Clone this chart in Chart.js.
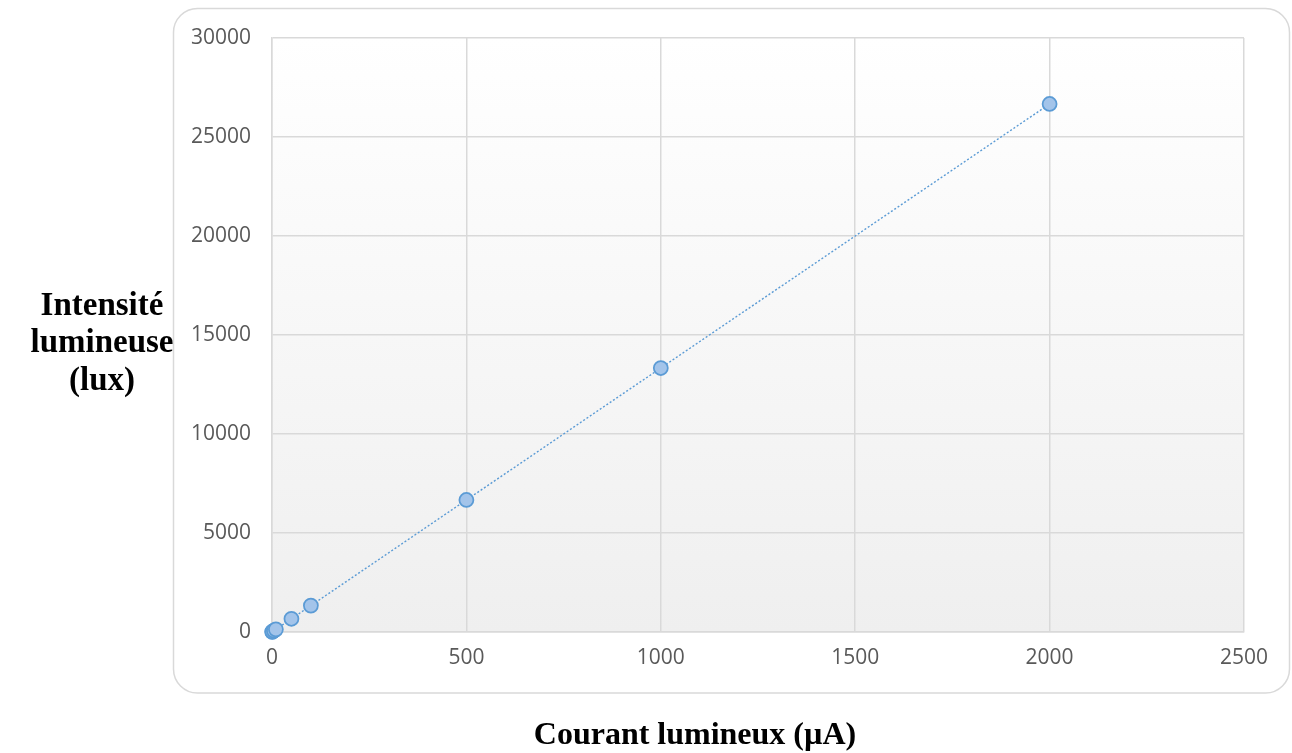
<!DOCTYPE html>
<html><head><meta charset="utf-8">
<script src="https://cdn.jsdelivr.net/npm/chart.js@4/dist/chart.umd.min.js"></script>
<style>html,body{margin:0;padding:0;background:#fff;}#wrap{width:1292px;height:753px;position:relative;}</style>
</head><body><div id="wrap"><canvas id="c" width="1292" height="753"></canvas></div>
<script>
const currentUA = [0.5, 1, 5, 10, 50, 100, 500, 1000, 2000];
const intensityLux = [7, 13, 67, 133, 667, 1333, 6667, 13333, 26667];
const xTitle = "Courant lumineux (µA)";
const yTitleLines = ["Intensité", "lumineuse", "(lux)"];

const points = currentUA.map((x, i) => ({x: x, y: intensityLux[i]}));

const decor = {
  id: 'decor',
  beforeDraw(chart) {
    const ctx = chart.ctx, a = chart.chartArea;
    ctx.save();
    const g = ctx.createLinearGradient(0, a.top, 0, a.bottom);
    g.addColorStop(0, '#ffffff');
    g.addColorStop(1, '#efefef');
    ctx.fillStyle = g;
    ctx.fillRect(a.left, a.top, a.right - a.left, a.bottom - a.top);
    ctx.strokeStyle = '#d9d9d9';
    ctx.lineWidth = 1.5;
    ctx.beginPath();
    ctx.roundRect(173.5, 8.5, 1116, 684.5, 24);
    ctx.stroke();
    ctx.restore();
  },
  afterDraw(chart) {
    const ctx = chart.ctx;
    ctx.save();
    ctx.fillStyle = '#000';
    ctx.textAlign = 'center';
    ctx.textBaseline = 'alphabetic';
    ctx.font = 'bold 32px "Liberation Serif", "Times New Roman", serif';
    ctx.fillText(xTitle, 695, 744);
    ctx.font = 'bold 33px "Liberation Serif", "Times New Roman", serif';
    const ys = [315, 352, 390];
    yTitleLines.forEach((t, i) => ctx.fillText(t, 102, ys[i]));
    ctx.restore();
  }
};

const plain = v => String(v);

new Chart(document.getElementById('c'), {
  type: 'scatter',
  data: {
    datasets: [{
      data: points,
      showLine: true,
      clip: false,
      borderColor: '#5b9bd5',
      borderWidth: 1.4,
      borderDash: [2, 2],
      pointRadius: 7,
      pointBackgroundColor: '#a3c4ea',
      pointBorderColor: '#5b9bd5',
      pointBorderWidth: 1.75
    }]
  },
  options: {
    responsive: false,
    animation: false,
    layout: {padding: {left: 173, right: 48, top: 38, bottom: 60}},
    plugins: {legend: {display: false}, tooltip: {enabled: false}},
    scales: {
      x: {
        type: 'linear', min: 0, max: 2500,
        ticks: {stepSize: 500, color: '#595959', font: {family: '"Open Sans"', size: 21}, padding: 13, callback: plain},
        grid: {color: '#d9d9d9', lineWidth: 1.5, drawTicks: false},
        border: {color: '#d9d9d9', width: 1.5},
        afterFit(s) { s.height = 61; }
      },
      y: {
        type: 'linear', min: 0, max: 30000,
        ticks: {stepSize: 5000, color: '#595959', font: {family: '"Open Sans"', size: 21}, padding: 21, callback: plain},
        grid: {color: '#d9d9d9', lineWidth: 1.5, drawTicks: false},
        border: {color: '#d9d9d9', width: 1.5},
        afterFit(s) { s.width = 99; }
      }
    }
  },
  plugins: [decor]
});
</script></body></html>
